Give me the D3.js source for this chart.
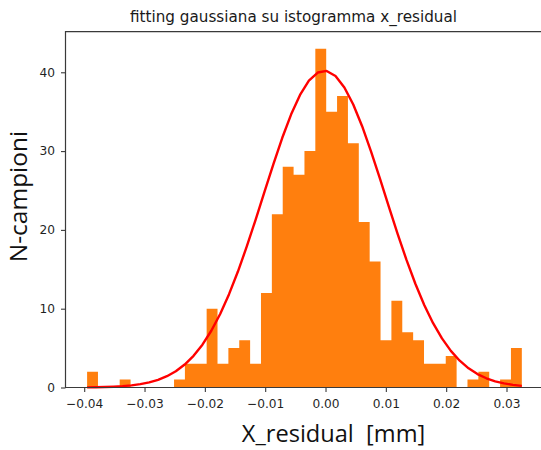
<!DOCTYPE html>
<html>
<head>
<meta charset="utf-8">
<script src="https://cdn.jsdelivr.net/npm/d3@7"></script>
<style>
  html, body { margin: 0; padding: 0; background: #fff; }
  svg { display: block; }
</style>
</head>
<body>
<svg id="chart" width="541" height="450"></svg>
<script>
// Histogram of x residuals (40 equal bins between the extreme samples)
const binStart = -0.03952;
const binEnd = 0.03254;
const counts = [2, 0, 0, 1, 0, 0, 0, 0, 1, 3,
                3, 10, 3, 5, 6, 3, 12, 22, 28, 27,
                30, 43, 35, 37, 31, 21, 16, 6, 11, 7,
                6, 3, 3, 4, 0, 1, 2, 0, 1, 5];

// Gaussian fit parameters: amplitude, mean, sigma
const fitAmplitude = 40.2;
const fitMean = -0.0002;
const fitSigma = 0.0101;
const curveSamples = 50;

const xTicks = [-0.04, -0.03, -0.02, -0.01, 0.00, 0.01, 0.02, 0.03];
const yTicks = [0, 10, 20, 30, 40];

const titleText = "fitting gaussiana su istogramma x_residual";
const xLabel = "X_residual  [mm]";
const yLabel = "N-campioni";

const svg = d3.select("#chart");

const plot = { left: 65.5, right: 543.3, top: 31.7, bottom: 387.5 };

const x = d3.scaleLinear().domain([-0.0431, 0.0361]).range([plot.left, plot.right]);
const y = d3.scaleLinear().domain([0, 45.15]).range([plot.bottom, plot.top]);

const binWidth = (binEnd - binStart) / counts.length;
const bins = counts.map((c, i) => ({
  x0: binStart + i * binWidth,
  x1: binStart + (i + 1) * binWidth,
  count: c
}));

// bars, drawn as one stepped outline so adjacent bins share edges without seams
const stepPoints = bins.map(d => [d.x0, d.count]);
stepPoints.push([binEnd, 0]);
svg.append("path")
  .datum(stepPoints)
  .attr("d", d3.area()
    .x(d => x(d[0]))
    .y0(y(0))
    .y1(d => y(d[1]))
    .curve(d3.curveStepAfter))
  .attr("fill", "#ff7f0e");

// fitted gaussian
const curve = d3.range(curveSamples).map(i => {
  const xv = binStart + (binEnd - binStart) * i / (curveSamples - 1);
  const yv = fitAmplitude * Math.exp(-((xv - fitMean) ** 2) / (2 * fitSigma * fitSigma));
  return [xv, yv];
});

svg.append("path")
  .datum(curve)
  .attr("d", d3.line().x(d => x(d[0])).y(d => y(d[1])))
  .attr("fill", "none")
  .attr("stroke", "#ff0000")
  .attr("stroke-width", 2.4)
  .attr("stroke-linejoin", "round");

// spines (the right one falls past the edge of the canvas)
svg.append("path")
  .attr("d", `M${plot.right},${plot.top}H${plot.left}V${plot.bottom}H${plot.right}`)
  .attr("fill", "none")
  .attr("stroke", "#3a3a3a")
  .attr("stroke-width", 1.2);

const tickFont = "DejaVu Sans, sans-serif";

// x axis
const xAxis = svg.append("g")
  .attr("transform", `translate(0,${plot.bottom})`)
  .call(d3.axisBottom(x).tickValues(xTicks).tickFormat(d3.format(".2f")).tickSize(4.5).tickPadding(7));
xAxis.select(".domain").remove();
xAxis.selectAll("line").attr("stroke", "#3a3a3a").attr("stroke-width", 1.1);
xAxis.selectAll("text").attr("font-family", tickFont).attr("font-size", 12.2).attr("fill", "#1f1f1f");

// y axis
const yAxis = svg.append("g")
  .attr("transform", `translate(${plot.left},0)`)
  .call(d3.axisLeft(y).tickValues(yTicks).tickFormat(d3.format("d")).tickSize(4.5).tickPadding(6));
yAxis.select(".domain").remove();
yAxis.selectAll("line").attr("stroke", "#3a3a3a").attr("stroke-width", 1.1);
yAxis.selectAll("text").attr("font-family", tickFont).attr("font-size", 12.2).attr("fill", "#1f1f1f");

// title
svg.append("text")
  .attr("x", 293.5)
  .attr("y", 22)
  .attr("text-anchor", "middle")
  .attr("font-family", tickFont)
  .attr("font-size", 15.2)
  .attr("fill", "#1a1a1a")
  .text(titleText);

// axis labels
svg.append("text")
  .attr("x", 333.5)
  .attr("y", 442)
  .attr("text-anchor", "middle")
  .attr("font-family", "Open Sans, sans-serif")
  .attr("font-size", 23.6)
  .attr("fill", "#111")
  .style("white-space", "pre")
  .text(xLabel);

svg.append("text")
  .attr("transform", "translate(27,196.5) rotate(-90)")
  .attr("text-anchor", "middle")
  .attr("font-family", "Open Sans, sans-serif")
  .attr("font-size", 24.5)
  .attr("fill", "#111")
  .text(yLabel);
</script>
</body>
</html>
